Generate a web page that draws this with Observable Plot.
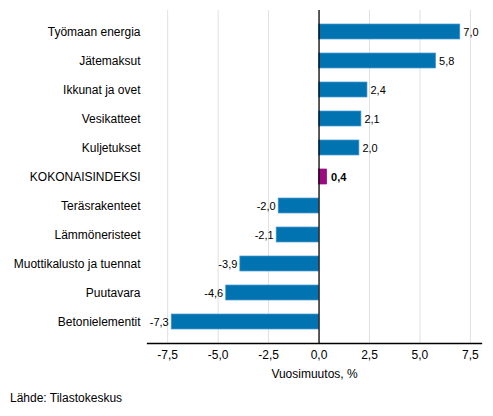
<!DOCTYPE html>
<html>
<head>
<meta charset="utf-8">
<script src="https://cdn.jsdelivr.net/npm/d3@7"></script>
<script src="https://cdn.jsdelivr.net/npm/@observablehq/plot@0.6"></script>
<style>
  html, body { margin: 0; padding: 0; background: #fff; }
  #wrap { position: relative; width: 493px; height: 416px; font-family: "Liberation Sans", Arial, sans-serif; }
  #source { position: absolute; left: 10px; top: 391px; font-size: 12px; color: #000; }
</style>
</head>
<body>
<div id="wrap"><div id="chart"></div><div id="source">Lähde: Tilastokeskus</div></div>
<script>
const categories = ["Työmaan energia", "Jätemaksut", "Ikkunat ja ovet", "Vesikatteet", "Kuljetukset", "KOKONAISINDEKSI", "Teräsrakenteet", "Lämmöneristeet", "Muottikalusto ja tuennat", "Puutavara", "Betonielementit"];
const values = [7.0, 5.8, 2.4, 2.1, 2.0, 0.4, -2.0, -2.1, -3.9, -4.6, -7.3];
const highlight = "KOKONAISINDEKSI";
const xTicks = [-7.5, -5.0, -2.5, 0.0, 2.5, 5.0, 7.5];
const xLabel = "Vuosimuutos, %";

const data = categories.map((c, i) => ({category: c, value: values[i]}));
const fi = d3.formatLocale({decimal: ",", thousands: " ", grouping: [3], currency: ["", "€"], minus: "-"});
const fmt = fi.format(".1f");

const chart = Plot.plot({
  width: 493,
  height: 390,
  marginLeft: 147,
  marginRight: 12,
  marginTop: 10,
  marginBottom: 47,
  style: {fontFamily: "'Liberation Sans', Arial, sans-serif", fontSize: "12px", color: "#000", background: "#fff"},
  x: {domain: [-8.5, 8.05], ticks: xTicks, tickFormat: fmt, label: null},
  y: {domain: categories, paddingInner: 0.49, paddingOuter: 0.445, label: null},
  marks: [
    Plot.ruleX(xTicks.filter(t => t !== 0), {stroke: "#e0e0e0", strokeWidth: 1}),
    Plot.barX(data, {y: "category", x: "value", fill: d => d.category === highlight ? "#9c0a7f" : "#0073b0", stroke: d => d.category === highlight ? "#9c0a7f" : "#4a9ad2", strokeWidth: 0.7}),
    Plot.ruleX([0], {stroke: "#000", strokeWidth: 1.3}),
    Plot.frame({anchor: "bottom", stroke: "#000", strokeWidth: 1.3}),
    Plot.text(data.filter(d => d.value >= 0 && d.category !== highlight), {y: "category", x: "value", text: d => fmt(d.value), textAnchor: "start", dx: 3, fontSize: 11, fill: "#000"}),
    Plot.text(data.filter(d => d.category === highlight), {y: "category", x: "value", text: d => fmt(d.value), textAnchor: "start", dx: 4, fontSize: 11, fill: "#000", fontWeight: "bold"}),
    Plot.text(data.filter(d => d.value < 0), {y: "category", x: "value", text: d => fmt(d.value), textAnchor: "end", dx: -3, fontSize: 11, fill: "#000"}),
    Plot.axisX({ticks: xTicks, tickFormat: fmt, tickSize: 0, tickPadding: 7, fontSize: 12, label: null}),
    Plot.text([xLabel], {frameAnchor: "bottom", dy: 34, fontSize: 12, fill: "#000"}),
    Plot.axisY({tickSize: 0, tickPadding: 7, fontSize: 12, label: null})
  ]
});
document.getElementById("chart").appendChild(chart);
</script>
</body>
</html>
